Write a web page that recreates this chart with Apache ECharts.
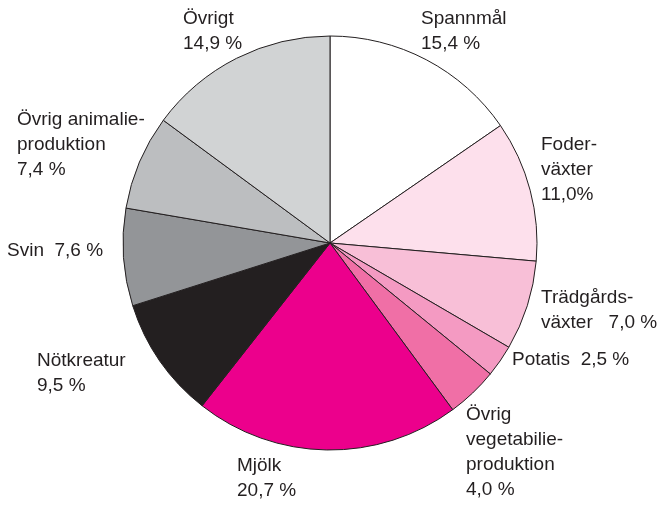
<!DOCTYPE html>
<html>
<head>
<meta charset="utf-8">
<script src="https://cdn.jsdelivr.net/npm/echarts@6/dist/echarts.min.js"></script>
<style>
  html, body { margin: 0; padding: 0; background: #fff; }
  #chart { width: 669px; height: 505px; }
</style>
</head>
<body>
<div id="chart"></div>
<script>
// andel av produktionsvärdet, medsols från kl. 12
var names = ['Spannmål', 'Foderväxter', 'Trädgårdsväxter', 'Potatis', 'Övrig vegetabilieproduktion',
             'Mjölk', 'Nötkreatur', 'Svin', 'Övrig animalieproduktion', 'Övrigt'];
var values = [15.4, 11.0, 7.0, 2.5, 4.0, 20.7, 9.5, 7.6, 7.4, 14.9];
var labelTexts = [
  'Spannmål\n15,4 %',
  'Foder-\nväxter\n11,0%',
  'Trädgårds-\nväxter   7,0 %',
  'Potatis  2,5 %',
  'Övrig\nvegetabilie-\nproduktion\n4,0 %',
  'Mjölk\n20,7 %',
  'Nötkreatur\n9,5 %',
  'Svin  7,6 %',
  'Övrig animalie-\nproduktion\n7,4 %',
  'Övrigt\n14,9 %'
];
var colors = ['#ffffff', '#fde0ec', '#f8bfd7', '#f49ac2', '#f06fa6',
              '#ec008c', '#231f20', '#939598', '#bcbec0', '#d1d3d4'];
// label anchor: left edge, top of first line
var labelPos = [
  [421, 6], [541, 132], [541, 285], [512, 347], [466, 402],
  [237, 453], [37, 348], [7, 238], [17, 107], [183, 6]
];

var myChart = echarts.init(document.getElementById('chart'));

var data = [];
for (var i = 0; i < names.length; i++) {
  data.push({
    name: names[i],
    value: values[i],
    itemStyle: { color: colors[i] },
    label: { formatter: labelTexts[i] }
  });
}

var option = {
  animation: false,
  series: [{
    type: 'pie',
    center: [330, 243],
    radius: 207,
    startAngle: 90,
    clockwise: true,
    avoidLabelOverlap: false,
    itemStyle: {
      borderColor: '#231f20',
      borderWidth: 1
    },
    label: {
      show: true,
      position: 'outside',
      color: '#231f20',
      fontFamily: 'Liberation Sans, Arial, sans-serif',
      fontSize: 19,
      lineHeight: 25
    },
    labelLine: { show: false },
    labelLayout: function (params) {
      var p = labelPos[params.dataIndex];
      return { x: p[0], y: p[1], align: 'left', verticalAlign: 'top' };
    },
    emphasis: { disabled: true },
    data: data
  }]
};

myChart.setOption(option);
</script>
</body>
</html>
